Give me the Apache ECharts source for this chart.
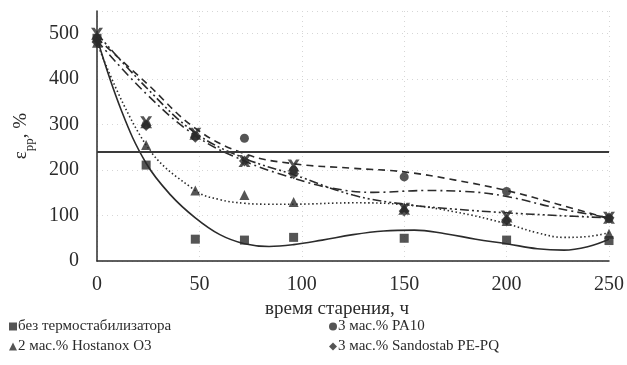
<!DOCTYPE html>
<html>
<head>
<meta charset="utf-8">
<script src="https://cdn.jsdelivr.net/npm/echarts@6/dist/echarts.min.js"></script>
<style>
  html, body { margin: 0; padding: 0; background: #fff; }
  #chart { width: 627px; height: 365px; }
</style>
</head>
<body>
<div id="chart"></div>
<script>
// measured points (aging time, h)
const times = [0, 24, 48, 72, 96, 150, 200, 250];
const noStab = [490, 211, 48, 46, 52, 50, 46, 45];
const pa10 = [490, 300, 275, 270, 200, 185, 153, 93];
const hostanox = [480, 255, 155, 145, 130, 118, 88, 60];
const sandostab = [482, 298, 272, 220, 192, 110, 90, 95];
const crosses = [500, 305, 280, 220, 210, 115, 98, 95];

// trend curves
const trendNoStabT = [0, 12, 24, 36, 48, 60, 72, 84, 96, 110, 125, 140, 155, 170, 185, 200, 215, 228, 240, 250];
const trendNoStab = [490, 330, 215, 145, 95, 58, 38, 32, 36, 46, 58, 66, 68, 60, 48, 38, 27, 24, 32, 48];
const trendPa10T = [0, 24, 48, 72, 96, 125, 150, 175, 200, 225, 250];
const trendPa10 = [490, 392, 292, 236, 214, 204, 196, 178, 155, 125, 93];
const trendSandT = [0, 24, 48, 72, 96, 115, 135, 160, 180, 200, 225, 250];
const trendSand = [485, 368, 276, 220, 182, 160, 151, 155, 153, 142, 116, 95];
const trendHostT = [0, 24, 48, 60, 72, 84, 96, 125, 150, 175, 200, 215, 228, 240, 250];
const trendHost = [480, 255, 155, 135, 127, 125, 125, 128, 124, 108, 82, 62, 52, 54, 62];
const trendCrossT = [0, 24, 48, 72, 96, 125, 150, 175, 200, 225, 250];
const trendCross = [500, 382, 282, 226, 190, 145, 125, 114, 106, 100, 95];

const limitValue = 240;

const legendLeft = ['без термостабилизатора', '2 мас.% Hostanox O3'];
const legendRight = ['3 мас.% PA10', '3 мас.% Sandostab PE-PQ'];

const ink = '#2b2b2b';
const serif = '"Liberation Serif", "DejaVu Serif", serif';

function pairs(xs, ys) {
  return xs.map((x, i) => [x, ys[i]]);
}

function trend(name, xs, ys, dash) {
  return {
    name: name,
    type: 'line',
    smooth: 0.4,
    showSymbol: false,
    silent: true,
    data: pairs(xs, ys),
    lineStyle: { color: ink, width: 1.6, type: dash },
    z: 2
  };
}

function points(name, ys, symbol, size) {
  return {
    name: name,
    type: 'scatter',
    symbol: symbol,
    symbolSize: size,
    itemStyle: { color: ink },
    data: pairs(times, ys),
    z: 3
  };
}

const chart = echarts.init(document.getElementById('chart'));
chart.setOption({
  animation: false,
  backgroundColor: '#fff',
  grid: { left: 97, right: 17, top: 11, bottom: 104 },
  legend: [
    {
      data: legendLeft.map((n, i) => ({ name: n, icon: i === 0 ? 'rect' : 'triangle' })),
      orient: 'vertical', left: 4, top: 314, itemGap: 5,
      itemWidth: 8, itemHeight: 8,
      textStyle: { fontFamily: serif, fontSize: 15, color: ink, padding: [0, 0, 0, -4] }
    },
    {
      data: legendRight.map((n, i) => ({ name: n, icon: i === 0 ? 'circle' : 'diamond' })),
      orient: 'vertical', left: 324, top: 314, itemGap: 5,
      itemWidth: 8, itemHeight: 8,
      textStyle: { fontFamily: serif, fontSize: 15, color: ink, padding: [0, 0, 0, -4] }
    }
  ],
  xAxis: {
    type: 'value', min: 0, max: 250, interval: 50,
    name: 'время старения, ч',
    nameLocation: 'middle', nameGap: 30,
    nameTextStyle: { fontFamily: serif, fontSize: 19, color: ink, padding: [0, 32, 0, 0] },
    axisLine: { lineStyle: { color: ink, width: 1.5 } },
    axisTick: { show: false },
    axisLabel: { fontFamily: serif, fontSize: 20, color: ink, margin: 14 },
    splitLine: { show: true, lineStyle: { color: '#d6d6d6', type: [1, 4] } }
  },
  yAxis: {
    type: 'value', min: 0, max: 550, interval: 100,
    name: '{e|ε}{s|pp}{e|, %}',
    nameLocation: 'middle', nameGap: 66, nameRotate: 90,
    nameTextStyle: {
      color: ink,
      rich: {
        e: { fontFamily: serif, fontSize: 19, color: ink, lineHeight: 24, verticalAlign: 'bottom' },
        s: { fontFamily: serif, fontSize: 13, color: ink, lineHeight: 24, verticalAlign: 'bottom', padding: [0, 0, -5, 0] }
      }
    },
    axisLine: { show: true, lineStyle: { color: ink, width: 1.5 } },
    axisTick: { show: false },
    axisLabel: {
      fontFamily: serif, fontSize: 20, color: ink, margin: 18,
      formatter: v => (v % 100 === 0 ? String(v) : '')
    },
    splitLine: { show: true, lineStyle: { color: '#d6d6d6', type: [1, 4] } }
  },
  series: [
    Object.assign(trend('trend-none', trendNoStabT, trendNoStab, 'solid'), {
      markLine: {
        silent: true, symbol: 'none', label: { show: false },
        lineStyle: { color: '#3a3a3a', width: 2, type: 'solid' },
        data: [{ yAxis: limitValue }]
      }
    }),
    trend('trend-pa10', trendPa10T, trendPa10, [7, 5]),
    trend('trend-sand', trendSandT, trendSand, [9, 4, 2, 4]),
    trend('trend-host', trendHostT, trendHost, [1.5, 2.5]),
    trend('trend-cross', trendCrossT, trendCross, [9, 3, 2, 3, 2, 3]),
    points('без термостабилизатора', noStab, 'rect', 9),
    points('3 мас.% PA10', pa10, 'circle', 9),
    points('2 мас.% Hostanox O3', hostanox, 'triangle', 10),
    points('3 мас.% Sandostab PE-PQ', sandostab, 'diamond', 11),
    points('x-series', crosses, 'path://M0,0 L3,0 L5,3 L7,0 L10,0 L6.5,5 L10,10 L7,10 L5,7 L3,10 L0,10 L3.5,5 Z', 12)
  ]
});
</script>
</body>
</html>
